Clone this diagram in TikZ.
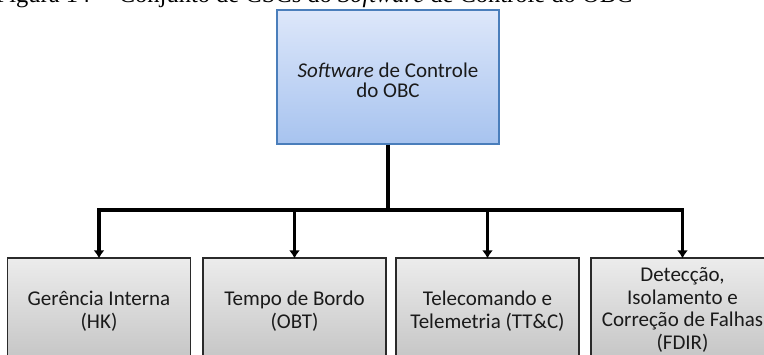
\documentclass[tikz,border=0pt]{standalone}
\usepackage{fontspec}
\setmainfont{Carlito}
\newfontfamily\capfont{Liberation Serif}
\usetikzlibrary{arrows.meta}
\definecolor{topedge}{HTML}{4A7EBB}
\definecolor{toptop}{HTML}{DDE7FA}
\definecolor{topbot}{HTML}{A7C3EF}
\definecolor{grtop}{HTML}{ECECEC}
\definecolor{grbot}{HTML}{C6C6C6}
\definecolor{gredge}{HTML}{2A2A2A}
\definecolor{txt}{HTML}{1A1A1A}
\begin{document}
\begin{tikzpicture}[x=1pt,y=-1pt,
  topbox/.style={draw=topedge, line width=1.3pt, top color=toptop, bottom color=topbot,
    minimum width=222pt, minimum height=134pt, inner sep=0pt},
  subbox/.style={draw=gredge, line width=1.3pt, top color=grtop, bottom color=grbot,
    minimum width=183pt, minimum height=100pt, inner sep=0pt},
  toptext/.style={align=center, text=txt, inner sep=0pt, font=\fontsize{21}{19.5}\selectfont},
  subtext/.style={align=center, text=txt, inner sep=0pt, font=\fontsize{21}{22.5}\selectfont},
  conn/.style={line width=3.5pt, black},
  arr/.style={conn, -{Latex[length=8pt,width=11pt]}, shorten >=-1pt}]
\useasboundingbox (0,0) rectangle (764,355);
\clip (0,0) rectangle (764,355);
\node[anchor=base east, font=\capfont\fontsize{24.5}{28}\selectfont] (cap) at (636,3)
  {Figura 14 -- Conjunto de CSCs do \textit{Software} de Controle do OBC};
\node[topbox] (top) at (388,77) {};
\node[toptext] (tt) at (388,80.5) {\textit{Software} de Controle\\do OBC};
\node[subbox] (b1) at (99,308) {};
\node[subbox] (b2) at (294.5,308) {};
\node[subbox] (b3) at (487.5,308) {};
\node[subbox] (b4) at (682.5,308) {};
\node[subtext] (t1) at (99,311) {Gerência Interna\\(HK)};
\node[subtext] (t2) at (294.5,311) {Tempo de Bordo\\(OBT)};
\node[subtext] (t3) at (487.5,311) {Telecomando e\\Telemetria (TT\&C)};
\node[subtext] (t4) at (682.5,310) {Detecção,\\Isolamento e\\Correção de Falhas\\(FDIR)};
\coordinate (j) at (388,210);
\draw[conn] (top.south) -- (j);
\draw[arr] (j) -| (b1.north);
\draw[arr] (j) -| (b2.north);
\draw[arr] (j) -| (b3.north);
\draw[arr] (j) -| (b4.north);
\end{tikzpicture}
\end{document}
